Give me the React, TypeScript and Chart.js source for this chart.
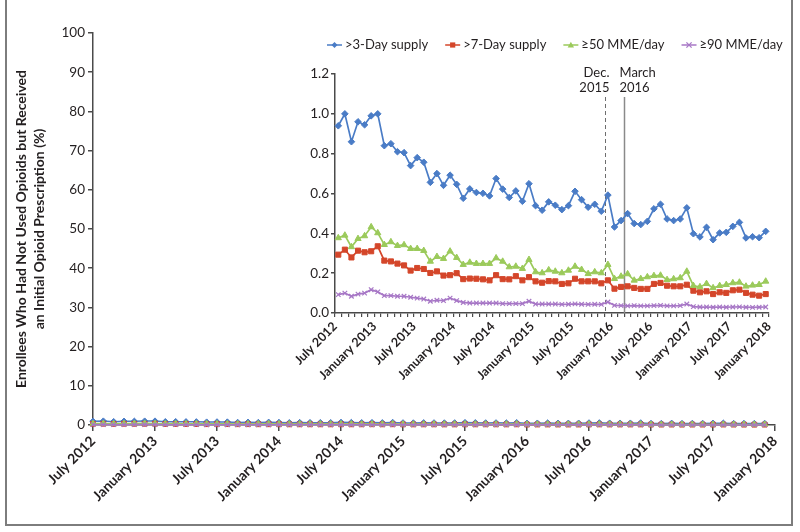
import React, { useEffect, useRef } from "react";
import { Chart, registerables } from "chart.js";

Chart.register(...registerables);

// ---------- data ----------
const tickLabels = [
  "July 2012", "January 2013", "July 2013", "January 2014", "July 2014", "January 2015",
  "July 2015", "January 2016", "July 2016", "January 2017", "July 2017", "January 2018",
];
const MONTHS_PER_LABEL = 6;
const AXIS_MONTHS = 66;

const supply3Day = [
  0.94, 1.0, 0.86, 0.96, 0.945, 0.99, 1.0, 0.84, 0.85, 0.81, 0.805, 0.74,
  0.78, 0.757, 0.656, 0.7, 0.641, 0.692, 0.646, 0.576, 0.623, 0.605, 0.601, 0.588,
  0.675, 0.622, 0.58, 0.613, 0.561, 0.649, 0.539, 0.516, 0.558, 0.541, 0.519, 0.539,
  0.611, 0.569, 0.531, 0.546, 0.511, 0.592, 0.432, 0.464, 0.499, 0.449, 0.444, 0.46,
  0.523, 0.546, 0.472, 0.464, 0.472, 0.528, 0.398, 0.382, 0.43, 0.368, 0.402, 0.405,
  0.435, 0.455, 0.377, 0.383, 0.378, 0.41,
];
const supply7Day = [
  0.293, 0.318, 0.279, 0.313, 0.305, 0.31, 0.335, 0.263, 0.259, 0.248, 0.239, 0.213,
  0.226, 0.221, 0.201, 0.209, 0.188, 0.19, 0.2, 0.17, 0.173, 0.172, 0.169, 0.164,
  0.19, 0.17, 0.169, 0.185, 0.164, 0.18, 0.159, 0.152, 0.16, 0.159, 0.146, 0.149,
  0.172, 0.159, 0.159, 0.159, 0.149, 0.164, 0.122, 0.131, 0.134, 0.126, 0.121, 0.121,
  0.146, 0.151, 0.137, 0.134, 0.134, 0.142, 0.112, 0.104, 0.109, 0.095, 0.104, 0.101,
  0.114, 0.117, 0.101, 0.092, 0.087, 0.095,
];
const mme50 = [
  0.377, 0.39, 0.332, 0.373, 0.387, 0.432, 0.402, 0.343, 0.357, 0.338, 0.342, 0.323,
  0.323, 0.313, 0.259, 0.283, 0.273, 0.31, 0.278, 0.243, 0.254, 0.248, 0.248, 0.248,
  0.276, 0.259, 0.231, 0.234, 0.223, 0.268, 0.206, 0.201, 0.216, 0.209, 0.201, 0.214,
  0.234, 0.218, 0.197, 0.206, 0.201, 0.243, 0.172, 0.184, 0.196, 0.164, 0.172, 0.181,
  0.187, 0.189, 0.167, 0.171, 0.176, 0.209, 0.137, 0.131, 0.147, 0.126, 0.137, 0.142,
  0.151, 0.154, 0.134, 0.139, 0.142, 0.159,
];
const mme90 = [
  0.092, 0.1, 0.084, 0.095, 0.1, 0.117, 0.106, 0.087, 0.087, 0.084, 0.084, 0.079,
  0.075, 0.07, 0.059, 0.064, 0.062, 0.075, 0.062, 0.053, 0.05, 0.05, 0.05, 0.05,
  0.05, 0.047, 0.047, 0.047, 0.047, 0.059, 0.045, 0.045, 0.045, 0.045, 0.043, 0.044,
  0.046, 0.044, 0.043, 0.044, 0.043, 0.055, 0.038, 0.037, 0.036, 0.037, 0.036, 0.036,
  0.037, 0.038, 0.036, 0.036, 0.037, 0.045, 0.032, 0.03, 0.03, 0.029, 0.03, 0.029,
  0.03, 0.031, 0.029, 0.028, 0.029, 0.03,
];
const seriesNames = [">3-Day supply", ">7-Day supply", "\u226550 MME/day", "\u226590 MME/day"];
const yTitleLines = ["Enrollees Who Had Not Used Opioids but Received", "an Initial Opioid Prescription (%)"];
const policyMonths = [41, 44];
const policyTexts = [["Dec.", "2015"], ["March", "2016"]];

// ---------- styles ----------
const FONT = "Lato, 'Noto Sans', sans-serif";
const TEXT = "#231f20";
const AXIS = "#4a4a4a";
const seriesColors = ["#4a7cc6", "#d4462a", "#9bca5b", "#a777c6"];
const seriesPointStyles = ["rectRot", "rect", "triangle", "crossRot"];
const INSET_LEFT = 290;

function drawMarker(ctx: CanvasRenderingContext2D, style: string, x: number, y: number, color: string) {
  ctx.save();
  ctx.fillStyle = color;
  ctx.strokeStyle = color;
  ctx.lineWidth = 1.3;
  ctx.beginPath();
  if (style === "rectRot") {
    ctx.moveTo(x, y - 3); ctx.lineTo(x + 3, y); ctx.lineTo(x, y + 3); ctx.lineTo(x - 3, y); ctx.closePath(); ctx.fill();
  } else if (style === "rect") {
    ctx.rect(x - 2.6, y - 2.6, 5.2, 5.2); ctx.fill();
  } else if (style === "triangle") {
    ctx.moveTo(x, y - 3.2); ctx.lineTo(x + 3.2, y + 2.6); ctx.lineTo(x - 3.2, y + 2.6); ctx.closePath(); ctx.fill();
  } else {
    ctx.moveTo(x - 2.6, y - 2.6); ctx.lineTo(x + 2.6, y + 2.6); ctx.moveTo(x + 2.6, y - 2.6); ctx.lineTo(x - 2.6, y + 2.6); ctx.stroke();
  }
  ctx.restore();
}

const insetLegend = {
  id: "insetLegend",
  afterDraw(chart: any) {
    const ctx: CanvasRenderingContext2D = chart.ctx;
    ctx.save();
    ctx.font = `13px ${FONT}`;
    ctx.textBaseline = "middle";
    ctx.fillStyle = TEXT;
    let x = 327 - INSET_LEFT;
    const y = 45;
    seriesNames.forEach((name, i) => {
      ctx.strokeStyle = seriesColors[i];
      ctx.lineWidth = 1.5;
      ctx.beginPath();
      ctx.moveTo(x, y);
      ctx.lineTo(x + 15, y);
      ctx.stroke();
      drawMarker(ctx, seriesPointStyles[i], x + 7.5, y, seriesColors[i]);
      ctx.fillStyle = TEXT;
      ctx.textAlign = "left";
      ctx.fillText(name, x + 18, y);
      x += 18 + ctx.measureText(name).width + 17;
    });
    ctx.restore();
  },
};

const policyLines = {
  id: "policyLines",
  beforeDatasetsDraw(chart: any) {
    const ctx: CanvasRenderingContext2D = chart.ctx;
    const xs = chart.scales.x;
    const bottom = chart.chartArea.bottom;
    ctx.save();
    policyMonths.forEach((m, i) => {
      const px = Math.round(xs.getPixelForValue(m)) + 0.5;
      ctx.beginPath();
      ctx.strokeStyle = i === 0 ? "#6e6e6e" : "#8a8a8a";
      ctx.lineWidth = i === 0 ? 1 : 1.5;
      ctx.setLineDash(i === 0 ? [4, 3] : []);
      ctx.moveTo(px, 97);
      ctx.lineTo(px, bottom);
      ctx.stroke();
      ctx.setLineDash([]);
      ctx.font = `13px ${FONT}`;
      ctx.fillStyle = TEXT;
      ctx.textBaseline = "middle";
      ctx.textAlign = i === 0 ? "right" : "left";
      const tx = i === 0 ? px + 4 : px - 5;
      policyTexts[i].forEach((t, k) => ctx.fillText(t, tx, 73 + k * 15));
    });
    ctx.restore();
  },
};

function buildDatasets(offset: number, radii: number[], lineWidth: number) {
  return [supply3Day, supply7Day, mme50, mme90].map((vals, i) => ({
    label: seriesNames[i],
    data: vals.map((v, j) => ({ x: j + offset, y: v })),
    borderColor: seriesColors[i],
    backgroundColor: seriesColors[i],
    pointStyle: seriesPointStyles[i],
    pointRadius: radii[i],
    pointBorderWidth: i === 3 ? 1.2 : 1,
    borderWidth: lineWidth,
    tension: 0,
    clip: false,
    order: 4 - i,
  }));
}

export default function App() {
  const mainRef = useRef<HTMLCanvasElement>(null);
  const insetRef = useRef<HTMLCanvasElement>(null);

  useEffect(() => {
    Chart.defaults.font.family = FONT;
    Chart.defaults.color = TEXT;

    const main = new Chart(mainRef.current!, {
      type: "line",
      data: { datasets: buildDatasets(0, [3.2, 3.4, 3.4, 3.2], 1.5) as any },
      options: {
        animation: false,
        responsive: false,
        devicePixelRatio: 1,
        layout: { padding: { left: 0, top: 33, right: 25, bottom: 0 } },
        plugins: { legend: { display: false }, tooltip: { enabled: false } },
        scales: {
          x: {
            type: "linear",
            min: 0,
            max: AXIS_MONTHS,
            ticks: {
              stepSize: MONTHS_PER_LABEL,
              autoSkip: false,
              minRotation: 45,
              maxRotation: 45,
              padding: 2,
              color: TEXT,
              font: { size: 14, weight: "bold" },
              callback: (v: any) => tickLabels[Math.round(v / MONTHS_PER_LABEL)] ?? "",
            },
            grid: { drawOnChartArea: false, drawTicks: true, tickLength: 6, color: AXIS, lineWidth: 1.5 },
            border: { display: true, color: AXIS, width: 1.5 },
            afterFit: (s: any) => { s.height = 107; },
          },
          y: {
            min: 0,
            max: 100,
            ticks: { stepSize: 10, padding: 3, color: TEXT, font: { size: 13.5 } },
            grid: { drawOnChartArea: false, drawTicks: true, tickLength: 5, color: AXIS, lineWidth: 1.5 },
            border: { display: true, color: AXIS, width: 1.5 },
            title: {
              display: true,
              text: yTitleLines,
              color: TEXT,
              font: { size: 14, weight: "bold", lineHeight: 1.25 },
              padding: { top: 13, bottom: 0 },
            },
            afterFit: (s: any) => { s.width = 93; },
          },
        },
      },
    });

    const inset = new Chart(insetRef.current!, {
      type: "line",
      data: { datasets: buildDatasets(0.5, [3.3, 3.6, 3.6, 3.2], 1.7) as any },
      options: {
        animation: false,
        responsive: false,
        devicePixelRatio: 1,
        layout: { padding: { left: 0, top: 74, right: 31, bottom: 0 } },
        plugins: { legend: { display: false }, tooltip: { enabled: false } },
        scales: {
          x: {
            type: "linear",
            min: 0,
            max: AXIS_MONTHS,
            ticks: {
              stepSize: 1,
              autoSkip: false,
              minRotation: 45,
              maxRotation: 45,
              padding: 2,
              color: TEXT,
              font: { size: 12.5, weight: "bold" },
              callback: (v: any) => (v % MONTHS_PER_LABEL === 0 ? tickLabels[v / MONTHS_PER_LABEL] ?? "" : ""),
            },
            grid: { drawOnChartArea: false, drawTicks: true, tickLength: 4, color: AXIS, lineWidth: 1.2 },
            border: { display: true, color: AXIS, width: 1.5 },
            afterFit: (s: any) => { s.height = 82; },
          },
          y: {
            min: 0,
            max: 1.2,
            ticks: {
              stepSize: 0.2,
              padding: 2,
              color: TEXT,
              font: { size: 13.5 },
              callback: (v: any) => Number(v).toFixed(1),
            },
            grid: { drawOnChartArea: false, drawTicks: true, tickLength: 4, color: AXIS, lineWidth: 1.5 },
            border: { display: true, color: AXIS, width: 1.5 },
            afterFit: (s: any) => { s.width = 45; },
          },
        },
      },
      plugins: [insetLegend, policyLines],
    });

    return () => {
      main.destroy();
      inset.destroy();
    };
  }, []);

  return (
    <div style={{ position: "absolute", left: 0, top: 0, width: 800, height: 532, background: "#fff", overflow: "hidden" }}>
      <div
        style={{
          position: "absolute",
          left: 5,
          top: -4,
          width: 788,
          height: 530,
          border: "2px solid #7d7d7d",
          boxSizing: "border-box",
        }}
      />
      <canvas ref={mainRef} width={800} height={532} style={{ position: "absolute", left: 0, top: 0 }} />
      <canvas ref={insetRef} width={510} height={395} style={{ position: "absolute", left: INSET_LEFT, top: 0 }} />
    </div>
  );
}
